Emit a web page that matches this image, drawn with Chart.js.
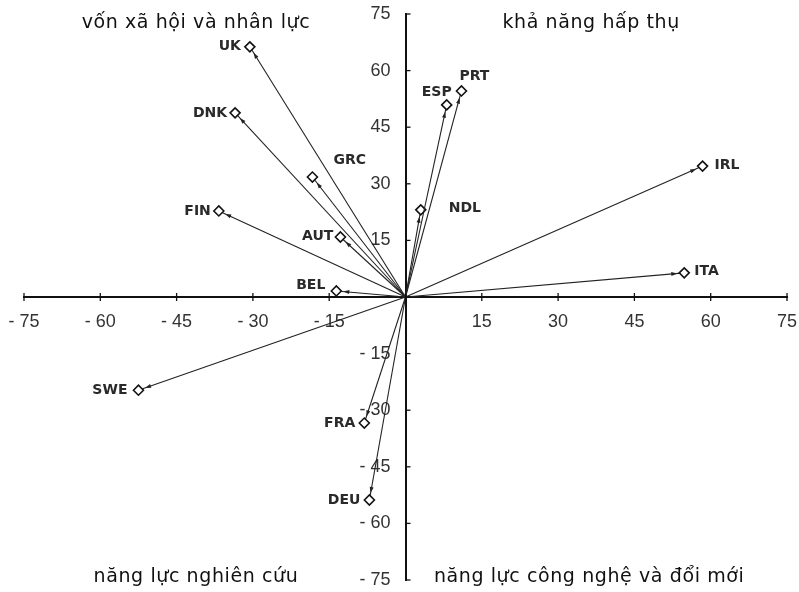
<!DOCTYPE html>
<html>
<head>
<meta charset="utf-8">
<script src="https://cdn.jsdelivr.net/npm/chart.js@4.4.1/dist/chart.umd.min.js"></script>
<style>
  html, body { margin: 0; padding: 0; background: #fff; }
  #wrap { width: 799px; height: 592px; }
</style>
</head>
<body>
<div id="wrap"><canvas id="chart"></canvas></div>
<script>
// Country vectors (factor scores)
const countries = ['UK', 'DNK', 'GRC', 'FIN', 'AUT', 'BEL', 'SWE', 'FRA', 'DEU', 'ESP', 'PRT', 'NDL', 'IRL', 'ITA'];
const xValues = [-30.6, -33.5, -18.3, -36.7, -12.8, -13.6, -52.5, -8.1, -7.1, 8.1, 11.0, 3.0, 58.4, 54.8];
const yValues = [66.3, 48.8, 31.8, 22.8, 15.9, 1.6, -24.7, -33.4, -53.8, 50.9, 54.6, 23.1, 34.7, 6.4];
const axisTicks = [-75, -60, -45, -30, -15, 0, 15, 30, 45, 60, 75];
const quadrantLabels = ['vốn xã hội và nhân lực', 'khả năng hấp thụ', 'năng lực nghiên cứu', 'năng lực công nghệ và đổi mới'];

// label placement beside each marker: [align, dx, dy] in px
const labelPlace = {
  UK: ['right', -9, 0], DNK: ['right', -8, 0], GRC: ['left', 21, -17],
  FIN: ['right', -8, 0], AUT: ['right', -7, -1], BEL: ['right', -11, -6],
  SWE: ['right', -11, 0], FRA: ['right', -9, 0], DEU: ['right', -9, 0],
  ESP: ['right', 5, -13], PRT: ['left', -2, -15], NDL: ['left', 28, -1],
  IRL: ['left', 12, -1], ITA: ['left', 10, -1]
};

function fmtTick(v) {
  if (v === 0) return '';
  return v < 0 ? '- ' + Math.abs(v) : String(v);
}

// one dataset per vector: origin -> country
const datasets = countries.map(function (c, i) {
  return {
    label: c,
    data: [{ x: 0, y: 0 }, { x: xValues[i], y: yValues[i] }],
    showLine: true,
    borderColor: '#222',
    borderWidth: 1.1,
    pointStyle: 'rectRot',
    pointRadius: [0, 5],
    pointBackgroundColor: '#fff',
    pointBorderColor: '#111',
    pointBorderWidth: 1.6
  };
});

// no extra room for the crossing axes
function noRoom(scale) {
  if (scale.isHorizontal()) scale.height = 0; else scale.width = 0;
  scale.paddingLeft = scale.paddingRight = scale.paddingTop = scale.paddingBottom = 0;
}

// arrowheads, point labels, tick marks and quadrant captions
const decorations = {
  id: 'decorations',
  afterDatasetsDraw(chart) {
    const ctx = chart.ctx;
    const xs = chart.scales.x, ys = chart.scales.y;
    const ox = xs.getPixelForValue(0), oy = ys.getPixelForValue(0);
    ctx.save();

    // tick marks
    ctx.strokeStyle = '#111';
    ctx.lineWidth = 1.3;
    axisTicks.forEach(function (t) {
      const px = xs.getPixelForValue(t);
      ctx.beginPath(); ctx.moveTo(px, oy - 4); ctx.lineTo(px, oy + 4); ctx.stroke();
      const py = ys.getPixelForValue(t);
      ctx.beginPath(); ctx.moveTo(ox, py); ctx.lineTo(ox + 5, py); ctx.stroke();
    });

    // arrowheads just before each marker
    ctx.fillStyle = '#222';
    countries.forEach(function (c, i) {
      const px = xs.getPixelForValue(xValues[i]);
      const py = ys.getPixelForValue(yValues[i]);
      const a = Math.atan2(py - oy, px - ox);
      const tx = px - Math.cos(a) * 7, ty = py - Math.sin(a) * 7;
      ctx.beginPath();
      ctx.moveTo(tx, ty);
      ctx.lineTo(tx - Math.cos(a) * 6 - Math.sin(a) * 2, ty - Math.sin(a) * 6 + Math.cos(a) * 2);
      ctx.lineTo(tx - Math.cos(a) * 6 + Math.sin(a) * 2, ty - Math.sin(a) * 6 - Math.cos(a) * 2);
      ctx.closePath();
      ctx.fill();
    });

    // point labels
    ctx.font = 'bold 14px "DejaVu Sans"';
    ctx.fillStyle = '#2a2a2a';
    ctx.textBaseline = 'middle';
    countries.forEach(function (c, i) {
      const p = labelPlace[c];
      const px = xs.getPixelForValue(xValues[i]);
      const py = ys.getPixelForValue(yValues[i]);
      ctx.textAlign = p[0];
      ctx.fillText(c, px + p[1], py + p[2]);
    });

    // quadrant captions
    ctx.font = '19px "DejaVu Sans"';
    ctx.letterSpacing = '0.6px';
    ctx.fillStyle = '#111';
    ctx.textAlign = 'center';
    ctx.textBaseline = 'alphabetic';
    const top = ys.getPixelForValue(75) + 14;
    const bottom = ys.getPixelForValue(-75) + 2;
    ctx.fillText(quadrantLabels[0], xs.getPixelForValue(-41.2), top);
    ctx.fillText(quadrantLabels[1], xs.getPixelForValue(36.5), top);
    ctx.fillText(quadrantLabels[2], xs.getPixelForValue(-41.2), bottom);
    ctx.fillText(quadrantLabels[3], xs.getPixelForValue(36.1), bottom);
    ctx.restore();
  }
};

new Chart(document.getElementById('chart'), {
  type: 'scatter',
  data: { datasets: datasets },
  options: {
    responsive: true,
    maintainAspectRatio: false,
    animation: false,
    layout: { padding: { left: 24, right: 12, top: 14, bottom: 12 } },
    plugins: { legend: { display: false }, tooltip: { enabled: false } },
    scales: {
      x: {
        type: 'linear',
        position: { y: 0 },
        min: -75, max: 75,
        afterFit: noRoom,
        afterBuildTicks(scale) { scale.ticks = axisTicks.map(function (v) { return { value: v }; }); },
        border: { color: '#111', width: 2 },
        grid: { display: true, drawOnChartArea: false, drawTicks: false },
        ticks: {
          autoSkip: false, maxRotation: 0, padding: 14,
          color: '#333', font: { family: 'Liberation Sans', size: 18 },
          callback: function (v) { return fmtTick(v); }
        }
      },
      y: {
        type: 'linear',
        position: { x: 0 },
        min: -75, max: 75,
        afterFit: noRoom,
        afterBuildTicks(scale) { scale.ticks = axisTicks.map(function (v) { return { value: v }; }); },
        border: { color: '#111', width: 2 },
        grid: { display: true, drawOnChartArea: false, drawTicks: false },
        ticks: {
          autoSkip: false,
          color: '#333', font: { family: 'Liberation Sans', size: 18 },
          // trailing gap between label and axis line
          callback: function (v) { return v === 0 ? '' : fmtTick(v) + '   '; }
        }
      }
    }
  },
  plugins: [decorations]
});
</script>
</body>
</html>
